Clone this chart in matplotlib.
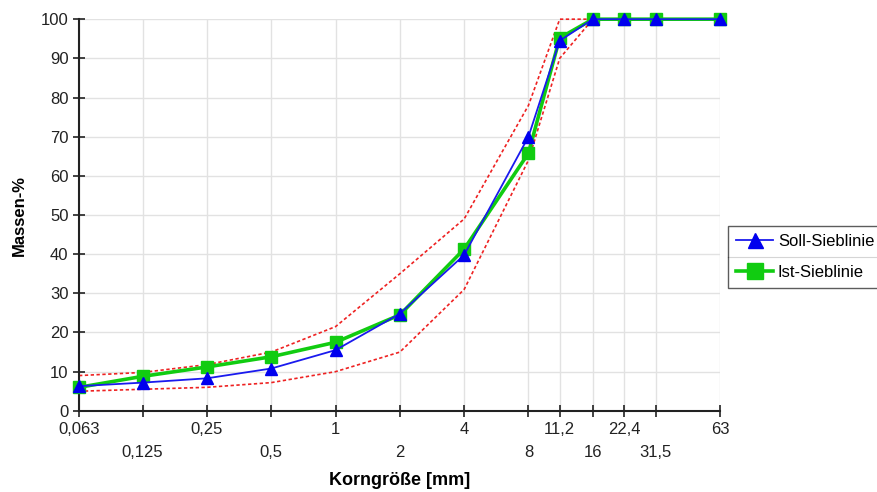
import matplotlib
matplotlib.use("Agg")
import matplotlib.pyplot as plt
from matplotlib.lines import Line2D
from matplotlib.ticker import FixedLocator, NullLocator

plt.rcParams['font.family'] = ['Liberation Sans', 'DejaVu Sans']

sizes = [0.063, 0.125, 0.25, 0.5, 1, 2, 4, 8, 11.2, 16, 22.4, 31.5, 63]
tick_labels = ["0,063", "0,125", "0,25", "0,5", "1", "2", "4", "8", "11,2", "16", "22,4", "31,5", "63"]
soll = [6.3, 7.2, 8.3, 10.8, 15.5, 24.8, 39.8, 70, 94.5, 100, 100, 100, 100]
ist = [6, 8.8, 11.2, 13.8, 17.5, 24.5, 41.3, 65.8, 95.2, 100, 100, 100, 100]
upper = [9, 9.8, 11.8, 15, 21.5, 35, 49, 78, 100, 100, 100, 100, 100]
lower = [5, 5.5, 6, 7.2, 10, 15, 31, 64, 90, 100, 100, 100, 100]

fig = plt.figure(figsize=(8.78, 4.92), dpi=100)
ax = fig.add_axes([0.09, 0.165, 0.73, 0.796])

ax.set_xscale('log', base=2)
ax.set_xlim(sizes[0], sizes[-1])
ax.set_ylim(0, 100)

ax.plot(sizes, upper, color='#ee2222', lw=1.2, dashes=(2, 1.5), zorder=2, clip_on=False)
ax.plot(sizes, lower, color='#ee2222', lw=1.2, dashes=(2, 1.5), zorder=2, clip_on=False)
l_ist, = ax.plot(sizes, ist, color='#11cc11', lw=2.6, marker='s', ms=8.5,
                 mfc='#11cc11', mec='#11cc11', label='Ist-Sieblinie', zorder=3, clip_on=False)
l_soll, = ax.plot(sizes, soll, color='#1a1aee', lw=1.3, marker='^', ms=8,
                  mfc='#0000ee', mec='#0000ee', label='Soll-Sieblinie', zorder=4, clip_on=False)

ax.xaxis.set_major_locator(FixedLocator(sizes))
ax.xaxis.set_minor_locator(NullLocator())
ax.set_xticklabels(tick_labels)
for i, t in enumerate(ax.get_xticklabels()):
    if i % 2 == 1:
        t.set_y(-0.058)
ax.set_yticks(range(0, 101, 10))

ax.tick_params(axis='both', direction='inout', length=8, width=1.2, labelsize=12, colors='#222222')
ax.tick_params(axis='x', pad=4)
ax.grid(True, color='#e2e2e2', lw=1)
ax.set_axisbelow(True)
for s in ['top', 'right']:
    ax.spines[s].set_visible(False)
for s in ['left', 'bottom']:
    ax.spines[s].set_linewidth(1.5)
    ax.spines[s].set_color('#222222')

ax.set_xlabel('Korngröße [mm]', fontsize=13, fontweight='bold', va='center')
ax.xaxis.set_label_coords(0.5, -0.178)
ax.set_ylabel('Massen-%', fontsize=12, fontweight='bold', va='center')
ax.yaxis.set_label_coords(-(79 - 19) / 641, 0.5)

leg = fig.legend([l_soll, l_ist], ['Soll-Sieblinie', 'Ist-Sieblinie'], loc='upper left',
                 bbox_to_anchor=(0.829, 0.541), frameon=True, fancybox=False,
                 edgecolor='#333333', fontsize=12, handlelength=2.2, markerscale=1.35,
                 borderpad=0.5, labelspacing=0.95, handletextpad=0.3, borderaxespad=0)
leg.get_frame().set_linewidth(1.0)

fig.canvas.draw()
bb = leg.get_window_extent().transformed(fig.transFigure.inverted())
ymid = (bb.y0 + bb.y1) / 2
fig.add_artist(Line2D([bb.x0, bb.x1], [ymid, ymid], color='#333333', lw=0.8,
                      transform=fig.transFigure))

fig.savefig('out.png', dpi=100)
